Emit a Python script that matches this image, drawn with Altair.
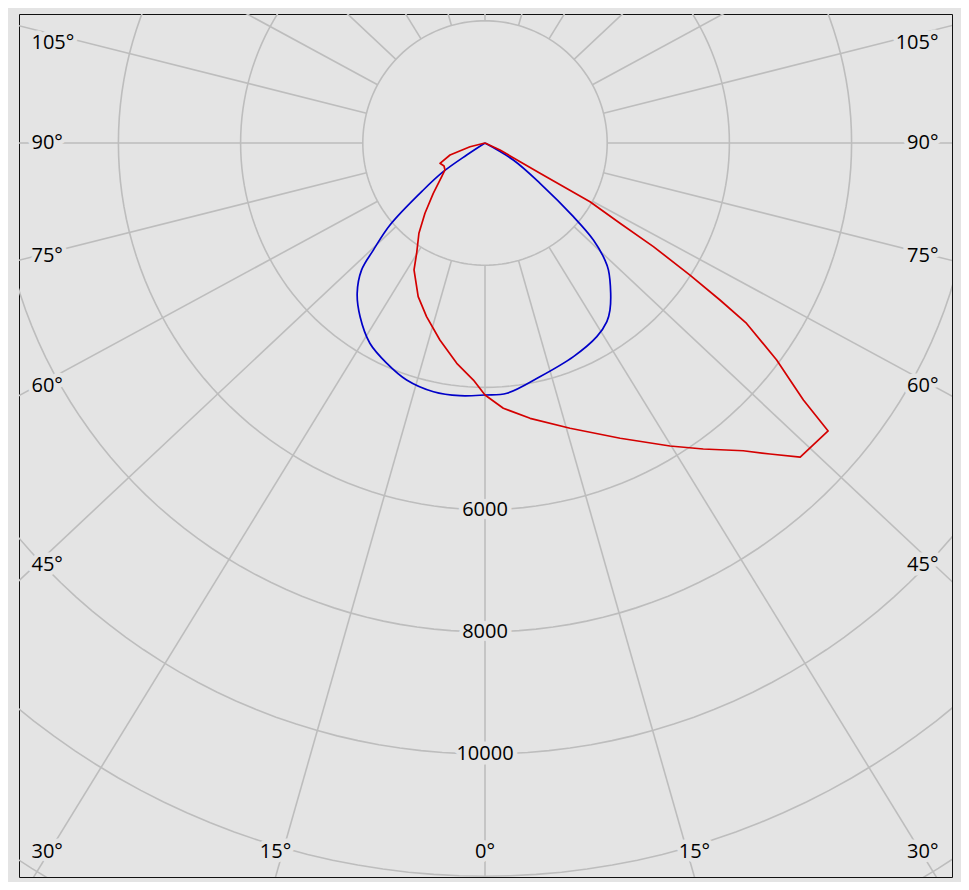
import numpy as np
import pandas as pd
import altair as alt

# ---------------- data ----------------
# Photometric curves: gamma angle in degrees (0 = straight down, negative = left half),
# luminous intensity in cd. Listed in drawing order around each curve.
BLUE_GAMMA = [-57, -56.7, -55.5, -52.7, -49.2, -46.2, -44.2, -40.4, -35.7, -29.9, -24.0,
              -18.3, -11.7, -5.7, 0, 5.0, 13.2, 22.5, 30.0, 34.3, 36.8, 39.9, 44.2, 45.7,
              48.2, 50.2, 53.8, 59.0, 60]
BLUE_I = [0, 358, 829, 1269, 2054, 2532, 2897, 3228, 3503, 3780, 3948,
          4085, 4157, 4156, 4124, 4112, 3930, 3784, 3660, 3539, 3414, 3207, 2897, 2743,
          2380, 1883, 1116, 540, 0]

RED_GAMMA = [-80, -76.1, -71.1, -65.7, -60.7, -56.0, -52.1, -45.8, -40.5, -36.2, -31.8,
             -29.2, -23.5, -18.6, -12.9, -7.3, -2.8, 0, 3.95, 9.3, 16.6, 24.6, 31.4, 35.5,
             40.0, 42.5, 45.1, 50.0, 51.1, 52.15, 53.35, 55.4, 56.25, 57.2, 58.4, 59.25,
             60.8, 61.15, 65.0, 66]
RED_I = [0, 253, 605, 808, 769, 790, 898, 1181, 1513, 1831, 2123,
         2381, 2742, 2999, 3307, 3635, 3884, 4124, 4352, 4566, 4872, 5314, 5810, 6152,
         6575, 6904, 7283, 7331, 6696, 6322, 5950, 5201, 4625, 3991, 3236, 2571,
         1969, 1028, 271, 0]

# Grid
RING_VALUES = [2000, 4000, 6000, 8000, 10000, 12000, 14000]
RING_LABEL_VALUES = [6000, 8000, 10000]
SPOKE_ANGLES = list(range(0, 360, 15))
SIDE_LABEL_ANGLES = [105, 90, 75, 60, 45]   # on the left and right edges
BOTTOM_LABEL_ANGLES = [0, 15]               # along the bottom edge
CORNER_LABEL_ANGLES = [30]                  # bottom corners

# ---------------- layout / style constants ----------------
PX_PER_CD = 0.0611
W, H = 933, 863
X_DOMAIN = [-466 / PX_PER_CD, 467 / PX_PER_CD]
Y_DOMAIN = [-734 / PX_PER_CD, 129 / PX_PER_CD]
SPOKE_STRETCH = 1.065          # the reference's spokes are slightly spread horizontally
SPOKE_START, SPOKE_END = 2000, 30000
LABEL_X = 453.5 / PX_PER_CD    # edge-aligned label anchor
SIDE_PROBE = 449 / PX_PER_CD
TOP_LIMIT = 100 / PX_PER_CD
BOTTOM_Y = -708.5 / PX_PER_CD
BOTTOM_EDGE = 734 / PX_PER_CD

BG = "#e4e4e4"
GRID = "#bdbdbd"
BLUE = "#0000c8"
RED = "#d40000"
FONT = "Open Sans"
FS = 20

# ---------------- build tables ----------------
def curve_df(gamma, inten, name):
    g = np.radians(np.array(gamma, dtype=float))
    r = np.array(inten, dtype=float)
    return pd.DataFrame({"series": name, "i": np.arange(len(r)),
                         "x": r * np.sin(g), "y": -r * np.cos(g)})

blue_df = curve_df(BLUE_GAMMA, BLUE_I, "blue")
red_df = curve_df(RED_GAMMA, RED_I, "red")

ring_rows = []
phi = np.radians(np.arange(0, 361, 2))
for R in RING_VALUES:
    for k, p in enumerate(phi):
        ring_rows.append({"ring": R, "i": k, "x": R * np.sin(p), "y": -R * np.cos(p)})
rings = pd.DataFrame(ring_rows)

def spoke_dir(theta_deg):
    t = np.radians(theta_deg)
    ux, uy = SPOKE_STRETCH * np.sin(t), -np.cos(t)
    n = np.hypot(ux, uy)
    return ux / n, uy / n

spoke_rows = []
for a in SPOKE_ANGLES:
    ux, uy = spoke_dir(a)
    for k, r in enumerate([SPOKE_START, SPOKE_END]):
        spoke_rows.append({"angle": a, "i": k, "x": r * ux, "y": r * uy})
spokes = pd.DataFrame(spoke_rows)

left_lab, right_lab, center_lab = [], [], []
for a in SIDE_LABEL_ANGLES:
    t = np.radians(a)
    y = -SIDE_PROBE * np.cos(t) / (SPOKE_STRETCH * np.sin(t))
    y = min(y, TOP_LIMIT)
    left_lab.append({"x": -LABEL_X, "y": y, "label": f"{a}°"})
    right_lab.append({"x": LABEL_X, "y": y, "label": f"{a}°"})
for a in CORNER_LABEL_ANGLES:
    left_lab.append({"x": -LABEL_X, "y": BOTTOM_Y, "label": f"{a}°"})
    right_lab.append({"x": LABEL_X, "y": BOTTOM_Y, "label": f"{a}°"})
for a in BOTTOM_LABEL_ANGLES:
    xx = SPOKE_STRETCH * np.tan(np.radians(a)) * BOTTOM_EDGE
    center_lab.append({"x": -xx, "y": BOTTOM_Y, "label": f"{a}°"})
    if a != 0:
        center_lab.append({"x": xx, "y": BOTTOM_Y, "label": f"{a}°"})
for v in RING_LABEL_VALUES:
    center_lab.append({"x": 0.0, "y": -float(v), "label": str(v)})

left_lab = pd.DataFrame(left_lab)
right_lab = pd.DataFrame(right_lab)
center_lab = pd.DataFrame(center_lab)

# ---------------- chart ----------------
xs = alt.Scale(domain=X_DOMAIN, nice=False, zero=False, padding=0)
ys = alt.Scale(domain=Y_DOMAIN, nice=False, zero=False, padding=0)
X = alt.X("x:Q", scale=xs, axis=None)
Y = alt.Y("y:Q", scale=ys, axis=None)

ring_layer = alt.Chart(rings).mark_line(color=GRID, strokeWidth=1.6, clip=True).encode(
    x=X, y=Y, detail="ring:N", order="i:Q")
spoke_layer = alt.Chart(spokes).mark_line(color=GRID, strokeWidth=1.6, clip=True).encode(
    x=X, y=Y, detail="angle:N", order="i:Q")

def text_layers(df, align):
    halo = alt.Chart(df).mark_text(
        align=align, baseline="middle", font=FONT, fontSize=FS,
        fill=BG, stroke=BG, strokeWidth=9, strokeJoin="round").encode(x=X, y=Y, text="label:N")
    txt = alt.Chart(df).mark_text(
        align=align, baseline="middle", font=FONT, fontSize=FS,
        color="black").encode(x=X, y=Y, text="label:N")
    return [halo, txt]

blue_layer = alt.Chart(blue_df).mark_line(
    strokeWidth=1.7, clip=True, interpolate="catmull-rom", color=BLUE).encode(
    x=X, y=Y, order="i:Q")
red_layer = alt.Chart(red_df).mark_line(
    strokeWidth=1.7, clip=True, color=RED, strokeJoin="round").encode(
    x=X, y=Y, order="i:Q")

layers = [ring_layer, spoke_layer]
layers += text_layers(left_lab, "left")
layers += text_layers(right_lab, "right")
layers += text_layers(center_lab, "center")
layers += [blue_layer, red_layer]

chart = alt.layer(*layers).properties(
    width=W, height=H,
    padding={"left": 11, "top": 6, "right": 9, "bottom": 5},
    background=BG,
).configure_view(stroke="#111111", strokeWidth=1, fill=BG)

chart.save("out.html", embed_options={"renderer": "svg", "actions": False})
